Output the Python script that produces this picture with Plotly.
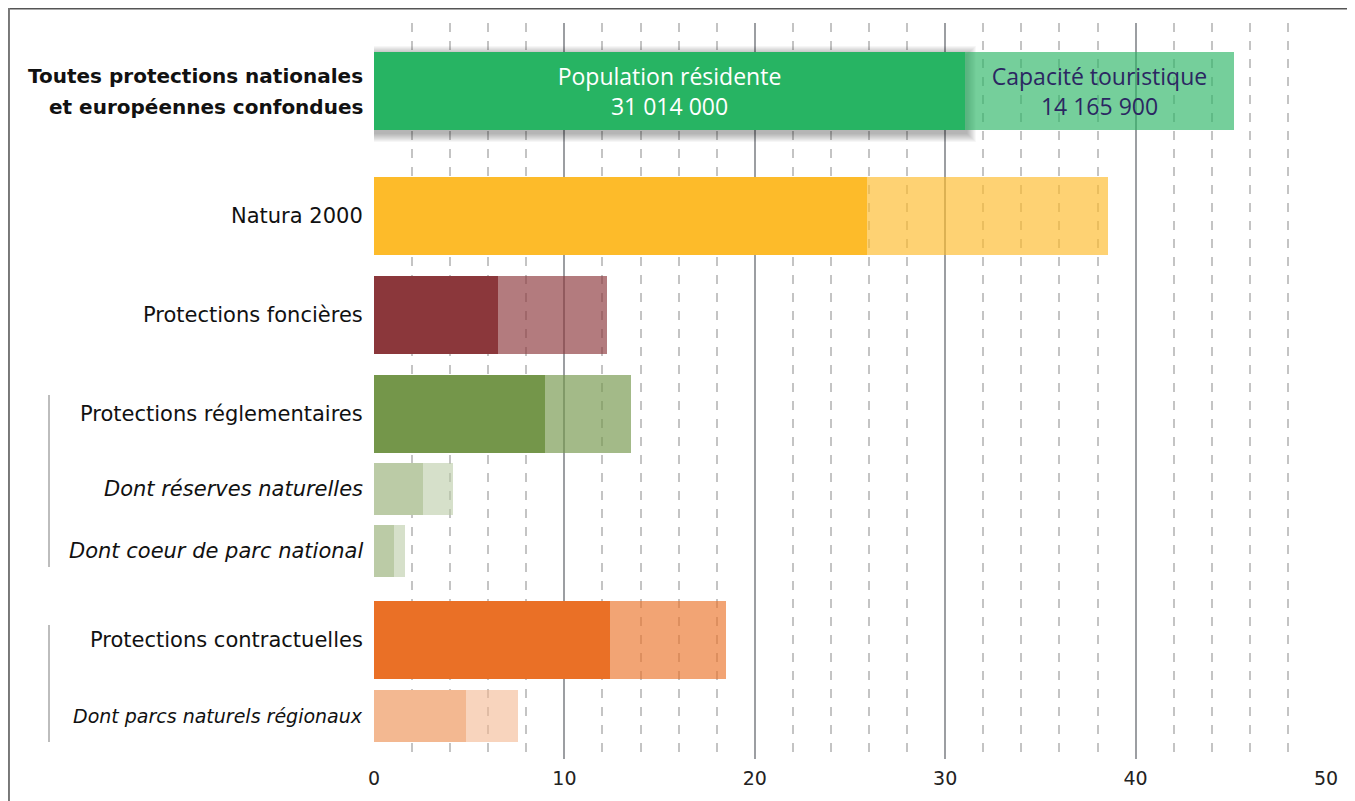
import plotly.graph_objects as go

# ---- data ----
categories = [
    "Toutes protections nationales<br>et européennes confondues",
    "Natura 2000",
    "Protections foncières",
    "Protections réglementaires",
    "Dont réserves naturelles",
    "Dont coeur de parc national",
    "Protections contractuelles",
    "Dont parcs naturels régionaux",
]
population = [31.014, 25.9, 6.5, 9.0, 2.57, 1.05, 12.4, 4.83]          # millions
tourisme = [14.1659, 12.65, 5.74, 4.5, 1.58, 0.58, 6.09, 2.73]         # millions
pop_label = "Population résidente<br>31 014 000"
tour_label = "Capacité touristique<br>14 165 900"
x_ticks = [0, 10, 20, 30, 40, 50]

# ---- layout helpers (positions / styles) ----
y_pos = [91, 216, 315, 414, 489, 551, 640, 716]
bar_h = [78, 78, 78, 78, 52, 52, 78, 52]
label_style = ["bold", "normal", "normal", "normal", "italic", "italic", "normal", "italic"]
label_size = [20, 21, 21, 21, 21, 21, 21, 19]
line_gap = 31
pop_colors = ["#27B463", "#FDBB2A", "#8B373B", "#74964A", "#BBCBA6", "#BBCBA6", "#EA7026", "#F3B891"]
tour_colors = ["rgba(39,180,99,0.64)", "rgba(253,187,42,0.66)", "rgba(139,55,59,0.66)",
               "rgba(116,150,74,0.66)", "rgba(187,203,166,0.6)", "rgba(187,203,166,0.6)",
               "rgba(234,112,38,0.64)", "rgba(243,184,145,0.6)"]

FONT = "Open Sans"
LFONT = "DejaVu Sans"

fig = go.Figure()
fig.add_trace(go.Bar(
    y=y_pos, x=population, width=bar_h, orientation="h",
    marker=dict(color=pop_colors, line=dict(width=0)),
    text=[pop_label] + [""] * (len(categories) - 1),
    textposition="inside", insidetextanchor="middle", textangle=0,
    textfont=dict(family=FONT, size=23, color="white"),
    constraintext="none", hoverinfo="skip", showlegend=False,
))
fig.add_trace(go.Bar(
    y=y_pos, x=tourisme, base=population, width=bar_h, orientation="h",
    marker=dict(color=tour_colors, line=dict(width=0)),
    text=[tour_label] + [""] * (len(categories) - 1),
    textposition="inside", insidetextanchor="middle", textangle=0,
    textfont=dict(family=FONT, size=23, color="#2B2762"),
    constraintext="none", hoverinfo="skip", showlegend=False,
))

# drop shadow behind the main population bar
for k in range(1, 10):
    fig.add_shape(type="rect", layer="between", xref="x", yref="y",
                  x0=0.05 - k * 0.055, x1=population[0] + 0.1 + k * 0.055,
                  y0=y_pos[0] - bar_h[0] / 2 + 3 - k, y1=y_pos[0] + bar_h[0] / 2 + 3 + k,
                  fillcolor="rgba(0,0,0,0.035)", line=dict(width=0))

# category labels
for cat, yy, st, sz in zip(categories, y_pos, label_style, label_size):
    lines = cat.split("<br>")
    n = len(lines)
    for i, ln in enumerate(lines):
        if st == "bold":
            txt = "<b>" + ln + "</b>"
        elif st == "italic":
            txt = "<i>" + ln + "</i>"
        else:
            txt = ln
        ly = yy + (i - (n - 1) / 2) * line_gap
        fig.add_annotation(x=0, xref="paper", xshift=-9, y=ly, yref="y",
                           text=txt, showarrow=False, xanchor="right", yanchor="middle",
                           align="right", font=dict(family=LFONT, size=sz, color="#111111"))

# brackets for sub-categories
for y0, y1 in [(395, 567), (625, 742)]:
    fig.add_shape(type="line", xref="paper", yref="y", x0=-0.3414, x1=-0.3414,
                  y0=y0, y1=y1, line=dict(color="#BDBDBD", width=2))

# frame (top and left edges)
fig.add_shape(type="line", xref="paper", yref="paper", x0=-0.3845, x1=1.04,
              y0=1.0204, y1=1.0204, line=dict(color="#555555", width=3))
fig.add_shape(type="line", xref="paper", yref="paper", x0=-0.3845, x1=-0.3845,
              y0=1.0204, y1=-0.06, line=dict(color="#777777", width=4))

fig.update_layout(
    width=1347, height=793,
    margin=dict(l=366, r=29, t=15, b=42),
    paper_bgcolor="white", plot_bgcolor="white",
    barmode="overlay", bargap=0,
    font=dict(family=FONT, color="#111111"),
    xaxis=dict(range=[0, 50], tickvals=x_ticks, ticks="", showline=False,
               showgrid=True, gridcolor="#9C9EA2", gridwidth=2, zeroline=False,
               tickfont=dict(family=LFONT, size=19, color="#222222"),
               ticklabelstandoff=6,
               minor=dict(dtick=2, showgrid=True, gridcolor="#C4C4C4", gridwidth=1.5,
                          griddash="dash", ticks="")),
    yaxis=dict(range=[759, 23], showticklabels=False, showgrid=False,
               zeroline=False, showline=False, ticks=""),
)

fig.write_html("out.html")
